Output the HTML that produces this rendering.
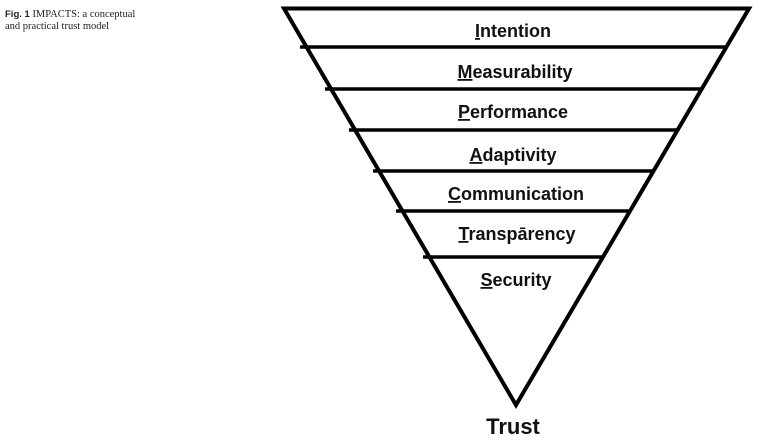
<!DOCTYPE html>
<html><head><style>
body{margin:0;background:#fff;}
svg{display:block}
.t{font-family:"Liberation Sans",sans-serif;font-weight:bold;font-size:18px;fill:#111;text-anchor:middle}
</style></head><body>
<svg width="759" height="444" viewBox="0 0 759 444" xmlns="http://www.w3.org/2000/svg">
<text x="5" y="17" font-family="Liberation Serif,serif" font-size="10.5" fill="#222"><tspan font-family="Liberation Sans,sans-serif" font-weight="bold" font-size="9.5">Fig. 1</tspan>  IMPACTS: a conceptual</text>
<text x="5" y="29" font-family="Liberation Serif,serif" font-size="10.5" fill="#222">and practical trust model</text>
<polygon points="284,8.5 749,8.5 516,405" fill="none" stroke="#000" stroke-width="4" stroke-linejoin="miter"/>
<g stroke="#000" stroke-width="3.5">
<line x1="300" y1="47" x2="726" y2="47"/>
<line x1="325" y1="89" x2="702" y2="89"/>
<line x1="349" y1="130" x2="678" y2="130"/>
<line x1="373" y1="171" x2="654" y2="171"/>
<line x1="396" y1="211" x2="631" y2="211"/>
<line x1="423" y1="257" x2="604" y2="257"/>
</g>
<g class="t">
<text x="513" y="37"><tspan text-decoration="underline">I</tspan>ntention</text>
<text x="515" y="78"><tspan text-decoration="underline">M</tspan>easurability</text>
<text x="513" y="118"><tspan text-decoration="underline">P</tspan>erformance</text>
<text x="513" y="161"><tspan text-decoration="underline">A</tspan>daptivity</text>
<text x="516" y="200"><tspan text-decoration="underline">C</tspan>ommunication</text>
<text x="517" y="240"><tspan text-decoration="underline">T</tspan>ranspārency</text>
<text x="516" y="286"><tspan text-decoration="underline">S</tspan>ecurity</text>
<text x="513" y="434" font-size="22">Trust</text>
</g>
</svg>
</body></html>
